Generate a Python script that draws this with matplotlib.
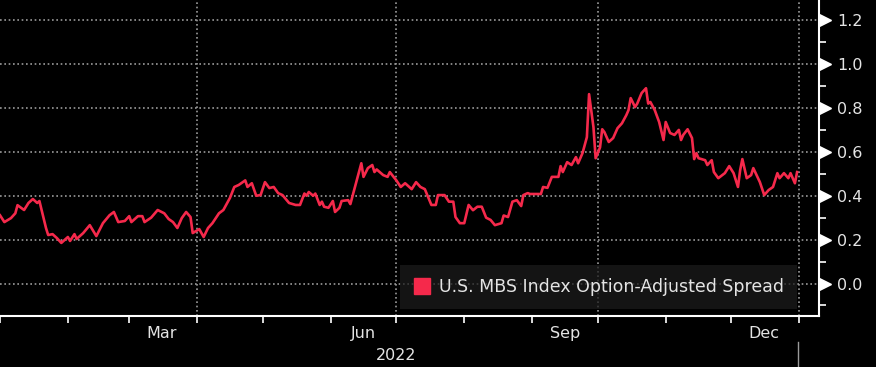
import pandas as pd
import matplotlib
matplotlib.use('Agg')
import matplotlib.pyplot as plt
import matplotlib.dates as mdates
import matplotlib.transforms as mtransforms
from matplotlib.lines import Line2D
from matplotlib.ticker import FixedLocator, FixedFormatter, MultipleLocator, NullFormatter

# Values (spread, in percentage points)
dates = [
    '2022-01-01', '2022-01-03', '2022-01-06', '2022-01-08', '2022-01-09', '2022-01-12',
    '2022-01-14', '2022-01-16', '2022-01-18', '2022-01-19', '2022-01-22', '2022-01-23',
    '2022-01-25', '2022-01-27', '2022-01-29', '2022-02-01', '2022-02-02', '2022-02-04',
    '2022-02-05', '2022-02-08', '2022-02-11', '2022-02-14', '2022-02-17', '2022-02-20',
    '2022-02-22', '2022-02-24', '2022-02-27', '2022-03-01', '2022-03-02', '2022-03-05',
    '2022-03-07', '2022-03-08', '2022-03-11', '2022-03-14', '2022-03-17', '2022-03-19',
    '2022-03-21', '2022-03-23', '2022-03-25', '2022-03-27', '2022-03-29', '2022-03-30',
    '2022-04-02', '2022-04-04', '2022-04-06', '2022-04-08', '2022-04-11', '2022-04-13',
    '2022-04-16', '2022-04-18', '2022-04-20', '2022-04-23', '2022-04-24', '2022-04-26',
    '2022-04-28', '2022-04-30', '2022-05-02', '2022-05-04', '2022-05-06', '2022-05-08',
    '2022-05-10', '2022-05-13', '2022-05-16', '2022-05-18', '2022-05-20', '2022-05-21',
    '2022-05-22', '2022-05-24', '2022-05-25', '2022-05-27', '2022-05-28', '2022-05-29',
    '2022-05-31', '2022-06-02', '2022-06-03', '2022-06-05', '2022-06-06', '2022-06-09',
    '2022-06-10', '2022-06-15', '2022-06-16', '2022-06-18', '2022-06-20', '2022-06-21',
    '2022-06-22', '2022-06-25', '2022-06-27', '2022-06-28', '2022-07-01', '2022-07-03',
    '2022-07-05', '2022-07-08', '2022-07-10', '2022-07-12', '2022-07-14', '2022-07-17',
    '2022-07-19', '2022-07-20', '2022-07-23', '2022-07-25', '2022-07-27', '2022-07-28',
    '2022-07-30', '2022-08-01', '2022-08-03', '2022-08-05', '2022-08-07', '2022-08-09',
    '2022-08-11', '2022-08-13', '2022-08-15', '2022-08-18', '2022-08-19', '2022-08-21',
    '2022-08-23', '2022-08-25', '2022-08-27', '2022-08-28', '2022-08-30', '2022-08-31',
    '2022-09-05', '2022-09-06', '2022-09-08', '2022-09-10', '2022-09-13', '2022-09-14',
    '2022-09-15', '2022-09-17', '2022-09-19', '2022-09-21', '2022-09-22', '2022-09-24',
    '2022-09-26', '2022-09-27', '2022-09-29', '2022-09-30', '2022-10-02', '2022-10-03',
    '2022-10-04', '2022-10-06', '2022-10-08', '2022-10-10', '2022-10-12', '2022-10-14',
    '2022-10-15', '2022-10-16', '2022-10-18', '2022-10-19', '2022-10-21', '2022-10-23',
    '2022-10-24', '2022-10-25', '2022-10-27', '2022-10-29', '2022-10-31', '2022-11-01',
    '2022-11-03', '2022-11-05', '2022-11-07', '2022-11-08', '2022-11-09', '2022-11-11',
    '2022-11-13', '2022-11-14', '2022-11-15', '2022-11-16', '2022-11-19', '2022-11-20',
    '2022-11-22', '2022-11-23', '2022-11-25', '2022-11-28', '2022-11-30', '2022-12-02',
    '2022-12-04', '2022-12-05', '2022-12-06', '2022-12-08', '2022-12-10', '2022-12-11',
    '2022-12-14', '2022-12-16', '2022-12-18', '2022-12-20', '2022-12-22', '2022-12-23',
    '2022-12-25', '2022-12-27', '2022-12-28', '2022-12-30', '2022-12-31',
]
spread = [
    0.311, 0.280, 0.298, 0.320, 0.357, 0.335,
    0.367, 0.385, 0.367, 0.376, 0.253, 0.221,
    0.225, 0.207, 0.185, 0.212, 0.194, 0.225,
    0.203, 0.230, 0.266, 0.216, 0.275, 0.311,
    0.326, 0.280, 0.285, 0.307, 0.280, 0.307,
    0.307, 0.280, 0.300, 0.335, 0.320, 0.294,
    0.280, 0.253, 0.298, 0.326, 0.303, 0.230,
    0.248, 0.212, 0.253, 0.275, 0.320, 0.335,
    0.390, 0.440, 0.449, 0.470, 0.440, 0.457,
    0.400, 0.403, 0.462, 0.435, 0.440, 0.412,
    0.403, 0.367, 0.358, 0.358, 0.410, 0.400,
    0.417, 0.400, 0.410, 0.358, 0.373, 0.350,
    0.345, 0.376, 0.326, 0.345, 0.376, 0.380,
    0.362, 0.548, 0.486, 0.526, 0.540, 0.508,
    0.520, 0.494, 0.486, 0.508, 0.470, 0.440,
    0.457, 0.430, 0.462, 0.440, 0.430, 0.358,
    0.358, 0.403, 0.403, 0.373, 0.373, 0.303,
    0.275, 0.275, 0.358, 0.334, 0.350, 0.350,
    0.300, 0.290, 0.266, 0.275, 0.310, 0.303,
    0.373, 0.380, 0.353, 0.403, 0.412, 0.408,
    0.408, 0.440, 0.436, 0.486, 0.486, 0.535,
    0.508, 0.553, 0.540, 0.576, 0.548, 0.594,
    0.667, 0.863, 0.713, 0.571, 0.620, 0.703,
    0.690, 0.645, 0.663, 0.708, 0.730, 0.767,
    0.790, 0.845, 0.804, 0.820, 0.868, 0.890,
    0.820, 0.827, 0.790, 0.736, 0.654, 0.736,
    0.686, 0.677, 0.700, 0.654, 0.677, 0.703,
    0.663, 0.567, 0.594, 0.571, 0.562, 0.540,
    0.562, 0.508, 0.480, 0.503, 0.535, 0.503,
    0.440, 0.517, 0.567, 0.480, 0.494, 0.526,
    0.462, 0.403, 0.426, 0.440, 0.503, 0.480,
    0.503, 0.480, 0.503, 0.457, 0.508,
]

month_labels = ['Mar', 'Jun', 'Sep', 'Dec']
month_label_dates = ['2022-03-16', '2022-06-16', '2022-09-16', '2022-12-16']
quarter_lines = ['2022-04-01', '2022-07-01', '2022-10-01', '2023-01-01']
y_ticks = [0.0, 0.2, 0.4, 0.6, 0.8, 1.0, 1.2]
series_name = 'U.S. MBS Index Option-Adjusted Spread'

red = '#f5294b'
text_col = '#e4e4e4'
grid_col = '#9a9a9a'
dotted = (0, (1, 1.6))

fig = plt.figure(figsize=(8.76, 3.67), dpi=100, facecolor='black')
ax = fig.add_axes([0, 51 / 367, 819 / 876, 316 / 367], facecolor='black')

ax.plot(pd.to_datetime(dates), spread, color=red, lw=1.9, zorder=3)

ax.set_xlim(pd.Timestamp('2022-01-01'), pd.Timestamp('2023-01-10'))
ax.set_ylim(-0.148, 1.292)

# grid
ax.set_axisbelow(True)
ax.yaxis.grid(True, color=grid_col, ls=dotted, lw=1.2)
for d in quarter_lines:
    ax.axvline(pd.Timestamp(d), color=grid_col, ls=dotted, lw=1.2, zorder=1)

# x axis: tick marks at month starts, labels mid-month
ax.xaxis.set_major_locator(mdates.MonthLocator())
ax.xaxis.set_major_formatter(NullFormatter())
ax.xaxis.set_minor_locator(FixedLocator(mdates.date2num(pd.to_datetime(month_label_dates))))
ax.xaxis.set_minor_formatter(FixedFormatter(month_labels))
ax.tick_params(axis='x', which='major', length=5, width=1.2, color='white', direction='out')
ax.tick_params(axis='x', which='minor', length=0, pad=7, labelsize=11.5, labelcolor=text_col)
ax.text(pd.Timestamp('2022-07-01'), -0.125, '2022', transform=ax.get_xaxis_transform(),
        ha='center', va='center', fontsize=11.5, color=text_col)

# y axis on the right
ax.yaxis.tick_right()
ax.set_yticks(y_ticks)
ax.set_yticklabels([f'{v:.1f}' for v in y_ticks])
ax.yaxis.set_minor_locator(MultipleLocator(0.1))
ax.tick_params(axis='y', which='major', length=0, pad=13, labelsize=11.5, labelcolor=text_col)
ax.tick_params(axis='y', which='minor', length=5, width=1.2, color='white', direction='out')
tri_offset = mtransforms.ScaledTranslation(0.055, 0, fig.dpi_scale_trans)
ax.plot([1.0] * len(y_ticks), y_ticks, ls='none', marker='>', ms=8, color='white',
        transform=ax.get_yaxis_transform() + tri_offset, clip_on=False, zorder=5)

for side in ['top', 'left']:
    ax.spines[side].set_visible(False)
for side in ['right', 'bottom']:
    ax.spines[side].set_color('white')
    ax.spines[side].set_linewidth(1.5)

# legend
handle = Line2D([], [], marker='s', ls='none', color=red, ms=11.5)
leg = ax.legend(handles=[handle], labels=[series_name], loc='lower right',
                bbox_to_anchor=(797 / 819, 7 / 316), borderaxespad=0, fancybox=False,
                facecolor='#1c1c1c', edgecolor='none', framealpha=0.75, fontsize=12.5,
                labelcolor=text_col, handlelength=1.0, handletextpad=0.5, borderpad=0.75)

# current-date marker below the axis
fig.add_artist(Line2D([798 / 876, 798 / 876], [0, 25 / 367], color=grid_col, lw=1,
                      transform=fig.transFigure))

fig.savefig('out.png', dpi=100, facecolor='black')
plt.close()
